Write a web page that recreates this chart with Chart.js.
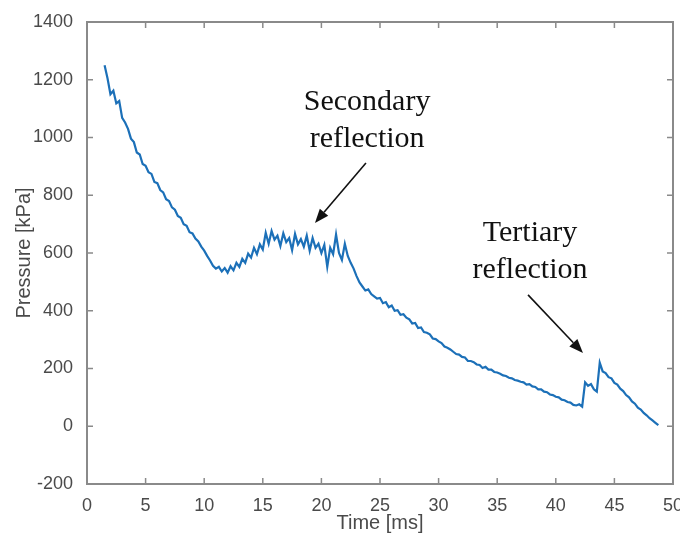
<!DOCTYPE html>
<html>
<head>
<meta charset="utf-8">
<script src="https://cdn.jsdelivr.net/npm/chart.js@4"></script>
<style>
  body { margin: 0; background: #fff; }
  canvas { display: block; }
</style>
</head>
<body>
<canvas id="chart" width="680" height="538"></canvas>
<script>
// time axis (ms), one row per millisecond
const times = [
    1.5, 1.75,
    2, 2.25, 2.5, 2.75,   3, 3.25, 3.5, 3.75,   4, 4.25, 4.5, 4.75,
    5, 5.25, 5.5, 5.75,   6, 6.25, 6.5, 6.75,   7, 7.25, 7.5, 7.75,
    8, 8.25, 8.5, 8.75,   9, 9.25, 9.5, 9.75,   10, 10.25, 10.5, 10.75,
    11, 11.25, 11.5, 11.75,   12, 12.25, 12.5, 12.75,   13, 13.25, 13.5, 13.75,
    14, 14.25, 14.5, 14.75,   15, 15.25, 15.5, 15.75,   16, 16.25, 16.5, 16.75,
    17, 17.25, 17.5, 17.75,   18, 18.25, 18.5, 18.75,   19, 19.25, 19.5, 19.75,
    20, 20.25, 20.5, 20.75,   21, 21.25, 21.5, 21.75,   22, 22.25, 22.5, 22.75,
    23, 23.25, 23.5, 23.75,   24, 24.25, 24.5, 24.75,   25, 25.25, 25.5, 25.75,
    26, 26.25, 26.5, 26.75,   27, 27.25, 27.5, 27.75,   28, 28.25, 28.5, 28.75,
    29, 29.25, 29.5, 29.75,   30, 30.25, 30.5, 30.75,   31, 31.25, 31.5, 31.75,
    32, 32.25, 32.5, 32.75,   33, 33.25, 33.5, 33.75,   34, 34.25, 34.5, 34.75,
    35, 35.25, 35.5, 35.75,   36, 36.25, 36.5, 36.75,   37, 37.25, 37.5, 37.75,
    38, 38.25, 38.5, 38.75,   39, 39.25, 39.5, 39.75,   40, 40.25, 40.5, 40.75,
    41, 41.25, 41.5, 41.75,   42, 42.25, 42.5, 42.75,   43, 43.25, 43.5, 43.75,
    44, 44.25, 44.5, 44.75,   45, 45.25, 45.5, 45.75,   46, 46.25, 46.5, 46.75,
    47, 47.25, 47.5, 47.75,   48, 48.25, 48.5, 48.75
];

// pressure (kPa), same rows as times
const pressure = [
    1250, 1205,
    1150, 1162, 1118, 1126,   1068, 1052, 1030, 996,   984, 948, 941, 908,
    902, 880, 874, 846,   842, 818, 810, 786,   780, 758, 750, 728,
    722, 700, 694, 672,   668, 650, 640, 622,   608, 590, 574, 556,
    546, 552, 536, 548,   532, 554, 540, 566,   552, 580, 566, 598,
    584, 618, 596, 630,   612, 670, 632, 676,   646, 660, 624, 668,
    638, 652, 610, 666,   630, 648, 622, 660,   608, 652, 618, 632,
    600, 628, 552, 618,   596, 664, 600, 576,   632, 590, 566, 546,
    520, 498, 484, 470,   474, 458, 450, 442,   444, 426, 430, 412,
    418, 400, 402, 386,   388, 376, 370, 356,   358, 340, 342, 326,
    324, 318, 304, 302,   294, 288, 276, 272,   266, 258, 250, 248,
    240, 238, 226, 226,   222, 214, 212, 202,   206, 196, 196, 188,
    186, 182, 176, 174,   168, 166, 160, 158,   154, 152, 144, 146,
    138, 136, 128, 128,   120, 118, 110, 108,   102, 100, 92, 90,
    84, 82, 74, 72,   76, 68, 152, 140,   146, 128, 120, 220,
    190, 184, 170, 166,   150, 144, 130, 122,   108, 100, 86, 78,
    64, 58, 46, 38,   28, 20, 12, 4
];

const xTicks = [0, 5, 10, 15, 20, 25, 30, 35, 40, 45, 50];
const yTicks = [-200, 0, 200, 400, 600, 800, 1000, 1200, 1400];

const xTitle = "Time [ms]";
const yTitle = "Pressure [kPa]";

// annotation text and arrows, in data units
const notes = [
    { lines: ["Secondary", "reflection"], x: 23.9, y: 1095 },
    { lines: ["Tertiary", "reflection"], x: 37.8, y: 642 }
];
const arrows = [
    { from: [23.8, 912], to: [19.45, 704] },
    { from: [37.63, 455], to: [42.32, 254] }
];

const AXIS_COLOR = "#8a8a8a";
const LABEL_COLOR = "#4a4a4a";

// draws the matlab style box, inward ticks, axis titles and the notes
const framePlugin = {
    id: "frame",
    afterDraw(chart) {
        const ctx = chart.ctx;
        const area = chart.chartArea;
        const xs = chart.scales.x;
        const ys = chart.scales.y;

        ctx.save();
        ctx.strokeStyle = AXIS_COLOR;
        ctx.lineWidth = 2;
        ctx.strokeRect(area.left, area.top, area.right - area.left, area.bottom - area.top);

        ctx.lineWidth = 1.5;
        ctx.beginPath();
        for (const v of xTicks) {
            const px = xs.getPixelForValue(v);
            ctx.moveTo(px, area.bottom);
            ctx.lineTo(px, area.bottom - 6);
            ctx.moveTo(px, area.top);
            ctx.lineTo(px, area.top + 6);
        }
        for (const v of yTicks) {
            const py = ys.getPixelForValue(v);
            ctx.moveTo(area.left, py);
            ctx.lineTo(area.left + 6, py);
            ctx.moveTo(area.right, py);
            ctx.lineTo(area.right - 6, py);
        }
        ctx.stroke();

        // axis titles
        ctx.fillStyle = LABEL_COLOR;
        ctx.font = "20px 'Liberation Sans', Arial, sans-serif";
        ctx.textAlign = "center";
        ctx.textBaseline = "middle";
        ctx.fillText(xTitle, (area.left + area.right) / 2, 523);
        ctx.save();
        ctx.translate(24, (area.top + area.bottom) / 2);
        ctx.rotate(-Math.PI / 2);
        ctx.fillText(yTitle, 0, 0);
        ctx.restore();

        // notes
        ctx.fillStyle = "#111";
        ctx.font = "30px 'Liberation Serif', 'Times New Roman', serif";
        ctx.textBaseline = "alphabetic";
        for (const note of notes) {
            const px = xs.getPixelForValue(note.x);
            const py = ys.getPixelForValue(note.y);
            note.lines.forEach((line, i) => ctx.fillText(line, px, py + i * 37));
        }

        // arrows
        ctx.strokeStyle = "#111";
        ctx.lineWidth = 1.6;
        for (const a of arrows) {
            const x1 = xs.getPixelForValue(a.from[0]);
            const y1 = ys.getPixelForValue(a.from[1]);
            const x2 = xs.getPixelForValue(a.to[0]);
            const y2 = ys.getPixelForValue(a.to[1]);
            const ang = Math.atan2(y2 - y1, x2 - x1);
            const len = 14;
            const hw = 5.5;
            const bx = x2 - len * Math.cos(ang);
            const by = y2 - len * Math.sin(ang);
            ctx.beginPath();
            ctx.moveTo(x1, y1);
            ctx.lineTo(bx, by);
            ctx.stroke();
            ctx.beginPath();
            ctx.moveTo(x2, y2);
            ctx.lineTo(bx + hw * Math.sin(ang), by - hw * Math.cos(ang));
            ctx.lineTo(bx - hw * Math.sin(ang), by + hw * Math.cos(ang));
            ctx.closePath();
            ctx.fill();
        }
        ctx.restore();
    }
};

const points = times.map((t, i) => ({ x: t, y: pressure[i] }));
const plainLabel = value => String(value);

new Chart(document.getElementById("chart"), {
    type: "line",
    plugins: [framePlugin],
    data: {
        datasets: [{
            data: points,
            borderColor: "#1c70b8",
            borderWidth: 2.2,
            pointRadius: 0,
            tension: 0,
            fill: false
        }]
    },
    options: {
        responsive: false,
        animation: false,
        layout: { padding: { top: 22, right: 7, left: 0, bottom: 0 } },
        plugins: {
            legend: { display: false },
            tooltip: { enabled: false }
        },
        scales: {
            x: {
                type: "linear",
                min: 0,
                max: 50,
                afterBuildTicks: scale => { scale.ticks = xTicks.map(v => ({ value: v })); },
                afterFit: scale => {
                    scale.height = 54;
                    scale.paddingLeft = 0;
                    scale.paddingRight = 0;
                },
                grid: { display: false },
                border: { display: false },
                ticks: {
                    padding: 3,
                    maxRotation: 0,
                    color: LABEL_COLOR,
                    callback: plainLabel,
                    font: { family: "'Liberation Sans', Arial, sans-serif", size: 18 }
                }
            },
            y: {
                type: "linear",
                min: -200,
                max: 1400,
                afterBuildTicks: scale => { scale.ticks = yTicks.map(v => ({ value: v })); },
                afterFit: scale => {
                    scale.width = 87;
                    scale.paddingTop = 0;
                    scale.paddingBottom = 0;
                },
                grid: { display: false },
                border: { display: false },
                ticks: {
                    padding: 6,
                    color: LABEL_COLOR,
                    callback: plainLabel,
                    font: { family: "'Liberation Sans', Arial, sans-serif", size: 18 }
                }
            }
        }
    }
});
</script>
</body>
</html>
